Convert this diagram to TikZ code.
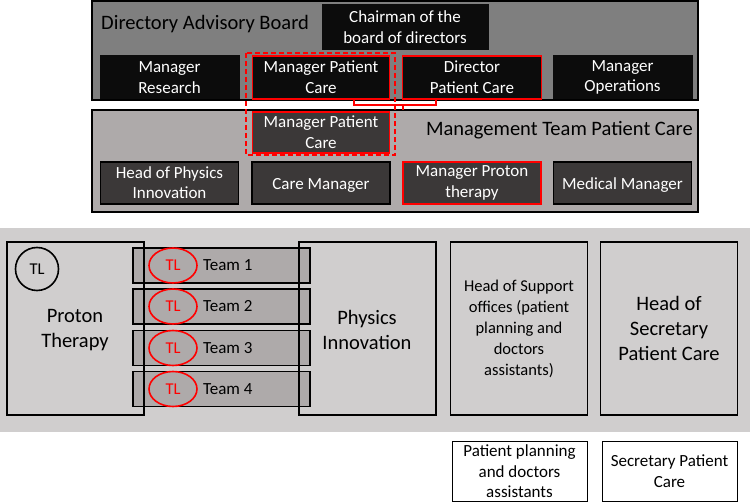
\documentclass[tikz,border=0pt]{standalone}
\usepackage{fontspec}
\setmainfont{Carlito}
\usetikzlibrary{shapes.geometric,calc}
\definecolor{boardgray}{HTML}{7F7F7F}
\definecolor{mgmtgray}{HTML}{AEAAAA}
\definecolor{darkbox}{HTML}{3B3838}
\definecolor{blackbox}{HTML}{0C0C0C}
\definecolor{band}{HTML}{D0CECE}
\definecolor{redline}{HTML}{FF0000}
\newcommand\nstrut{\rule[-0.02em]{0pt}{0.95em}}
\tikzset{
  strutted/.style={execute at begin node=\nstrut, execute at end node=\nstrut},
  panel/.style={draw=black, line width=2pt},
  bbox/.style={strutted, fill=blackbox, draw=blackbox, line width=1pt, text=white, align=center, minimum width=139, minimum height=43, inner sep=0pt, font=\fontsize{17}{20.5}\selectfont},
  dbox/.style={strutted, fill=darkbox, draw=black, line width=1.8pt, text=white, align=center, minimum width=138, minimum height=42, inner sep=0pt, font=\fontsize{17}{20.5}\selectfont},
  redbox/.style={draw=redline},
  teambox/.style={fill=mgmtgray, draw=black, line width=1.6pt, minimum width=177, minimum height=35, inner sep=0pt},
  tlred/.style={ellipse, draw=redline, line width=1.6pt, minimum width=48, minimum height=35, inner sep=0pt, text=redline, font=\fontsize{16.5}{19}\selectfont},
  bigbox/.style={strutted, draw=black, line width=1.6pt, minimum width=137, minimum height=173, inner sep=0pt, align=center},
  whitebox/.style={strutted, fill=white, draw=black, line width=1pt, minimum width=135, minimum height=59, inner sep=0pt, align=center, font=\fontsize{17}{20.5}\selectfont},
  conn/.style={draw=redline, line width=1.6pt},
  head/.style={font=\fontsize{20.5}{25}\selectfont, inner sep=0pt},
  body/.style={font=\fontsize{17}{20.5}\selectfont},
}
\begin{document}
\begin{tikzpicture}[x=1pt,y=-1pt]
\useasboundingbox (0,0) rectangle (750,502);
% top board
\draw[panel, fill=boardgray] (92,1) rectangle (698,100);
\node[head, anchor=west] (dabtitle) at (101,24) {Directory Advisory Board};
\node[bbox, minimum width=166, minimum height=45] (chair) at (405,27.5) {Chairman of the\\board of directors};
\node[bbox] (mres) at (169.5,77.5) {Manager\\Research};
\node[bbox, redbox, line width=1.8pt, minimum width=137] (mpc1) at (321,77.5) {Manager Patient\\Care};
\node[bbox, redbox, line width=1.8pt] (dpc) at (472,77.5) {Director\\Patient Care};
\node[bbox] (mops) at (622.5,77.5) {Manager\\Operations};
% management team
\draw[panel, fill=mgmtgray] (92,110) rectangle (698,212);
\node[head, anchor=east] (mttitle) at (693,130) {Management Team Patient Care};
\node[dbox, redbox, minimum width=137, minimum height=41] (mpc2) at (321,132.5) {Manager Patient\\Care};
\node[dbox] (hpi) at (169.5,183) {Head of Physics\\Innovation};
\node[dbox] (cm) at (321,183) {Care Manager};
\node[dbox, redbox] (mpt) at (472,183) {Manager Proton\\therapy};
\node[dbox] (mm) at (622.5,183) {Medical Manager};
% dashed highlight
\draw[redline, line width=1.6pt, dash pattern=on 5pt off 3pt] (246,53) rectangle (395,155);
% connector
\coordinate (jn) at (403,105);
\draw[conn] ([xshift=33pt]mpc1.south) |- (jn) -| ([xshift=-36pt]dpc.south);
\draw[conn] (jn) -- (jn |- 0,110);
% band
\fill[band] (0,228) rectangle (750,432);
\node[teambox] (t1) at (221.5,265.5) {};
\node[teambox] (t2) at (221.5,306.5) {};
\node[teambox] (t3) at (221.5,348) {};
\node[teambox] (t4) at (221.5,389) {};
\foreach \i in {1,...,4}{
  \node[tlred] (tl\i) at ([xshift=-48.5pt]t\i.center) {TL};
  \node[body, anchor=west] (tt\i) at ([xshift=-22pt]t\i.center) {Team \i};
}
\node[bigbox, minimum width=137] (pt) at (75.5,328.5) {};
\node[head, align=center] (pttext) at (75,330) {Proton\\Therapy};
\node[draw=black, line width=1.6pt, circle, minimum size=43, inner sep=0pt, font=\fontsize{16.5}{19}\selectfont] (tl0) at (37,269) {TL};
\node[bigbox] (phy) at (367.5,328.5) {};
\node[head, align=center] (phytext) at (367,330) {Physics\\Innovation};
\node[bigbox, fill=band, font=\fontsize{16.5}{21}\selectfont] (hso) at (519,328.5) {Head of Support\\offices (patient\\planning and\\doctors\\assistants)};
\node[bigbox, fill=band, font=\fontsize{20.5}{25}\selectfont] (hsec) at (669,328.5) {Head of\\Secretary\\Patient Care};
% bottom
\node[whitebox] (ppda) at (519.5,471.5) {Patient planning\\and doctors\\assistants};
\node[whitebox] (spc) at (669.5,471.5) {Secretary Patient\\Care};
\end{tikzpicture}
\end{document}
